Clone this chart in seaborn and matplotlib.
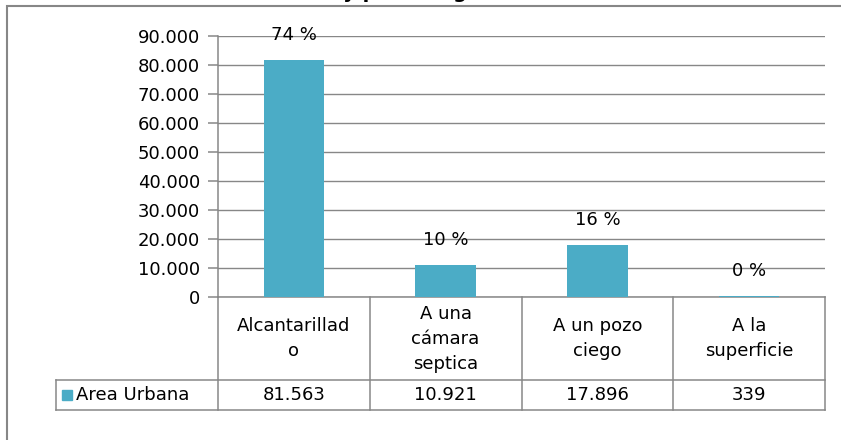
import matplotlib
matplotlib.use("Agg")
import matplotlib.pyplot as plt
import matplotlib.patches as mpatches
from matplotlib.ticker import FuncFormatter, MultipleLocator
import seaborn as sns

categorias = ["Alcantarillad\no", "A una\ncámara\nseptica", "A un pozo\nciego", "A la\nsuperficie"]
area_urbana = [81563, 10921, 17896, 339]
serie = "Area Urbana"
titulo = "Eliminación de excretas y pozo ciego"

azul = "#4BACC6"
gris = "#878787"


def miles(v):
    return f"{int(round(v)):,}".replace(",", ".")


W, H = 841, 440
fig = plt.figure(figsize=(W / 100, H / 100), dpi=100)
plt.rcParams["font.family"] = ["DejaVu Sans"]

# marco del grafico (el titulo queda cortado arriba, como en el original)
fig.patches.append(mpatches.Rectangle((7 / W, -0.1), 1.2, 1.1 - 6 / H, transform=fig.transFigure,
                                      fill=False, edgecolor=gris, linewidth=1.5))
fig.text(75 / W, 1 + 1.5 / H, titulo, fontsize=14, fontweight="bold", ha="left", va="baseline")

ax = fig.add_axes([218 / W, 1 - 297 / H, (825 - 218) / W, (297 - 36) / H])
sns.barplot(x=list(range(len(area_urbana))), y=area_urbana, color=azul, saturation=1,
            width=0.4, linewidth=0, ax=ax, zorder=3)
ax.set_xlim(-0.5, len(area_urbana) - 0.5)
ax.set_ylim(0, 90000)
ax.yaxis.set_major_locator(MultipleLocator(10000))
ax.yaxis.set_major_formatter(FuncFormatter(lambda v, p: miles(v)))
ax.grid(axis="y", color=gris, linewidth=1.0, zorder=0)
ax.set_axisbelow(True)
ax.set_xlabel("")
ax.set_ylabel("")
ax.set_xticks([])
for s in ["top", "right"]:
    ax.spines[s].set_visible(False)
ax.spines["left"].set_color(gris)
ax.spines["bottom"].set_color(gris)
ax.spines["left"].set_linewidth(1.1)
ax.spines["bottom"].set_linewidth(1.1)
ax.tick_params(axis="y", length=7, width=1.1, color=gris, labelsize=13, pad=6)

total = sum(area_urbana)
for i, v in enumerate(area_urbana):
    ax.annotate(f"{round(v / total * 100):.0f} %", (i, v), xytext=(0, 18), textcoords="offset points",
                ha="center", va="center", fontsize=13)

# tabla de datos bajo el grafico
h1 = -83 / 261
h2 = -113 / 261
xl = (56 - 218) / 607
kw = dict(color=gris, linewidth=1.1, clip_on=False, transform=ax.transAxes)
for k in range(len(area_urbana) + 1):
    ax.plot([k / len(area_urbana)] * 2, [0, h2], **kw)
ax.plot([xl, 1], [h1, h1], **kw)
ax.plot([xl, 1], [h2, h2], **kw)
ax.plot([xl, xl], [h1, h2], **kw)

tr = ax.get_xaxis_transform()
for i, (c, v) in enumerate(zip(categorias, area_urbana)):
    ax.text(i, h1 / 2, c, transform=tr, ha="center", va="center", fontsize=13, linespacing=1.5)
    ax.text(i, (h1 + h2) / 2, miles(v), transform=tr, ha="center", va="center", fontsize=13)

ax.add_patch(mpatches.Rectangle(((62 - 218) / 607, (h1 + h2) / 2 - 5 / 261), 10 / 607, 10 / 261,
                                transform=ax.transAxes, color=azul, clip_on=False))
ax.text((76 - 218) / 607, (h1 + h2) / 2, serie, transform=ax.transAxes, ha="left", va="center",
        fontsize=13)

plt.savefig("out.png", dpi=100)
